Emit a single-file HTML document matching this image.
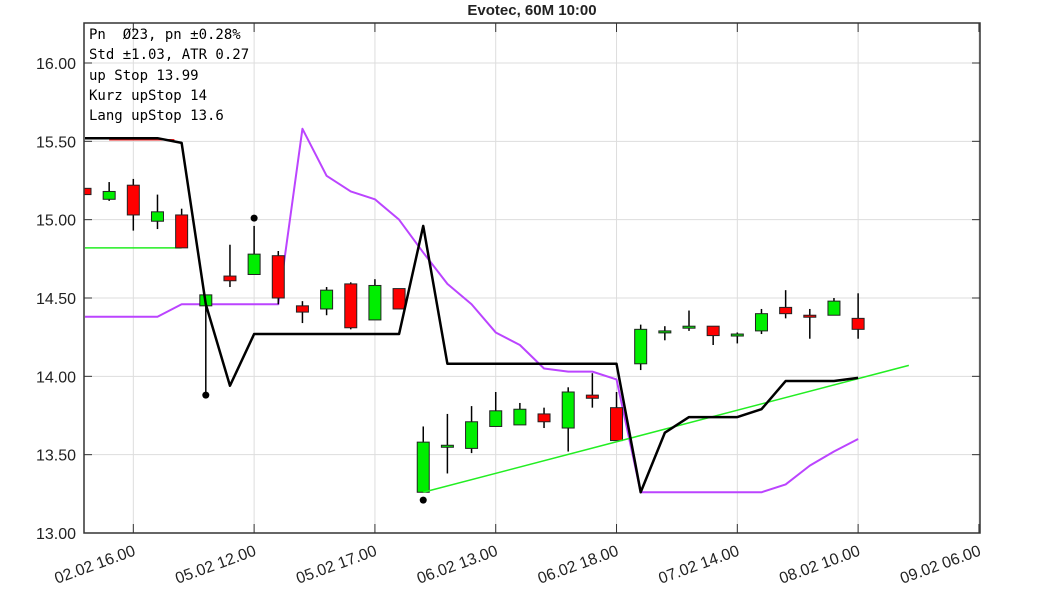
<!DOCTYPE html>
<html><head><meta charset="utf-8"><style>
html,body{margin:0;padding:0;background:#fff;}
svg{display:block;}
</style></head><body>
<svg id="chart" width="1063" height="591" viewBox="0 0 1063 591" xmlns="http://www.w3.org/2000/svg">
<defs><clipPath id="plotclip"><rect x="84" y="23" width="896" height="510"/></clipPath></defs>
<rect x="0" y="0" width="1063" height="591" fill="#fff"/>
<text x="532" y="15" text-anchor="middle" font-family="Liberation Sans, sans-serif" font-size="15" font-weight="bold" fill="#222">Evotec, 60M 10:00</text>
<g id="grid"></g>
<g id="series" clip-path="url(#plotclip)"></g>
<g id="axes"></g>
<g font-family="DejaVu Sans Mono, Liberation Mono, monospace" font-size="14" fill="#000">
<text x="89" y="39" xml:space="preserve">Pn  Ø23, pn ±0.28%</text>
<text x="89" y="59">Std ±1.03, ATR 0.27</text>
<text x="89" y="80">up Stop 13.99</text>
<text x="89" y="100">Kurz upStop 14</text>
<text x="89" y="120">Lang upStop 13.6</text>
</g>
</svg>
<script>
const opens  = [15.20,15.13,15.22,14.99,15.03,14.45,14.64,14.65,14.77,14.45,14.43,14.59,14.36,14.56,13.26,13.55,13.54,13.68,13.69,13.76,13.67,13.88,13.80,14.08,14.29,14.31,14.32,14.27,14.29,14.44,14.39,14.39,14.37];
const closes = [15.16,15.18,15.03,15.05,14.82,14.52,14.61,14.78,14.50,14.41,14.55,14.31,14.58,14.43,13.58,13.56,13.71,13.78,13.79,13.71,13.90,13.86,13.59,14.30,14.29,14.32,14.26,14.27,14.40,14.40,14.38,14.48,14.30];
const highs  = [15.20,15.24,15.26,15.16,15.07,14.52,14.84,14.96,14.80,14.48,14.57,14.60,14.62,14.56,13.68,13.76,13.81,13.90,13.83,13.80,13.93,14.02,13.90,14.33,14.32,14.42,14.32,14.28,14.43,14.55,14.43,14.50,14.53];
const lows   = [15.16,15.12,14.93,14.94,14.82,13.88,14.57,14.65,14.46,14.34,14.39,14.30,14.36,14.43,13.26,13.38,13.51,13.68,13.69,13.67,13.52,13.80,13.59,14.04,14.23,14.29,14.20,14.21,14.27,14.37,14.24,14.39,14.24];
const stopLine = [15.52,15.52,15.52,15.52,15.49,14.46,13.94,14.27,14.27,14.27,14.27,14.27,14.27,14.27,14.96,14.08,14.08,14.08,14.08,14.08,14.08,14.08,14.08,13.26,13.64,13.74,13.74,13.74,13.79,13.97,13.97,13.97,13.99];
const longStop = [14.38,14.38,14.38,14.38,14.46,14.46,14.46,14.46,14.46,15.58,15.28,15.18,15.13,15.00,14.79,14.59,14.46,14.28,14.20,14.05,14.03,14.03,13.98,13.26,13.26,13.26,13.26,13.26,13.26,13.31,13.43,13.52,13.60];
const dotsIdx = [5,7,14];
const dotsVal = [13.88,15.01,13.21];
const greenFlat = [0,4,14.82];
const trendIdx = [14,34.1];
const trendVal = [13.26,14.07];
const redFlat = [1,3.7,15.51];
const yTicks = [13,13.5,14,14.5,15,15.5,16];
const xTickIdx = [2,7,12,17,22,27,32,37];
const xTickLabels = ["02.02 16.00","05.02 12.00","05.02 17.00","06.02 13.00","06.02 18.00","07.02 14.00","08.02 10.00","09.02 06.00"];

const L=84,R=980,T=23,B=533;
const x0=85,dx=24.16;
const X=i=>x0+i*dx;
const Y=v=>533-(v-13)*156.67;
const NS="http://www.w3.org/2000/svg";
function mk(tag,parent,attrs){const e=document.createElementNS(NS,tag);for(const k in attrs)e.setAttribute(k,attrs[k]);parent.appendChild(e);return e;}
const grid=document.getElementById('grid'),series=document.getElementById('series'),axes=document.getElementById('axes');

yTicks.forEach((v,k)=>{
  const g=mk('line',grid,{x1:L,x2:R,y1:Y(v),y2:Y(v),stroke:'#ddd','stroke-width':1});
  
  
  const t=mk('line',axes,{x1:L,x2:L+8,y1:Y(v),y2:Y(v),stroke:'#333','stroke-width':1});
  
  
  const t2=mk('line',axes,{x1:R-8,x2:R,y1:Y(v),y2:Y(v),stroke:'#333','stroke-width':1});
  
  
  const lb=mk('text',axes,{x:L-8,y:Y(v)+6,'text-anchor':'end','font-family':'Liberation Sans, sans-serif','font-size':'16',fill:'#222'});
  lb.textContent=v.toFixed(2);
  
  
});
xTickIdx.forEach((i,k)=>{
  const x=X(i);
  const g=mk('line',grid,{x1:x,x2:x,y1:T,y2:B,stroke:'#ddd','stroke-width':1});
  
  
  const t=mk('line',axes,{x1:x,x2:x,y1:B-9,y2:B,stroke:'#333','stroke-width':1});
  
  
  const t2=mk('line',axes,{x1:x,x2:x,y1:T,y2:T+9,stroke:'#333','stroke-width':1});
  
  
  const lb=mk('text',axes,{x:x+3,y:B+22,'text-anchor':'end','font-family':'Liberation Sans, sans-serif','font-size':'16',fill:'#222',transform:`rotate(-20 ${x+3} ${B+22})`});
  lb.textContent=xTickLabels[k];
  
  
});
const fr=mk('rect',axes,{x:L,y:T,width:R-L,height:B-T,fill:'none',stroke:'#333','stroke-width':1.5});



function poly(vals,color,w,name){
  const p=mk('polyline',series,{points:vals.map((v,i)=>X(i)+','+Y(v)).join(' '),fill:'none',stroke:color,'stroke-width':w,'stroke-linejoin':'round'});
  
  
}
const gf=mk('line',series,{x1:X(greenFlat[0]),x2:X(greenFlat[1]),y1:Y(greenFlat[2]),y2:Y(greenFlat[2]),stroke:'#22ee22','stroke-width':1.5});


const rf=mk('line',series,{x1:X(redFlat[0]),x2:X(redFlat[1]),y1:Y(redFlat[2]),y2:Y(redFlat[2]),stroke:'#ee2222','stroke-width':1.5});


poly(longStop,'#bb44ff',2,'long-upstop-line');

for(let i=0;i<opens.length;i++){
  const x=X(i),o=opens[i],c=closes[i];
  const w=mk('line',series,{x1:x,x2:x,y1:Y(highs[i]),y2:Y(lows[i]),stroke:'#000','stroke-width':1.5});
  
  
  const top=Math.max(o,c),bot=Math.min(o,c);
  const h=Math.max(Y(bot)-Y(top),2);
  const r=mk('rect',series,{x:x-6,y:Y(top),width:12,height:h,fill:c>=o?'#00ee00':'#ff0000',stroke:'#222','stroke-width':1});
  
  
}
const tl=mk('line',series,{x1:X(trendIdx[0]),x2:X(trendIdx[1]),y1:Y(trendVal[0]),y2:Y(trendVal[1]),stroke:'#22ee22','stroke-width':1.5});


poly(stopLine,'#000',2.5,'up-stop-line');
dotsIdx.forEach((i,k)=>{
  const d=mk('circle',series,{cx:X(i),cy:Y(dotsVal[k]),r:3.5,fill:'#000'});
  
  
});
</script>
</body></html>
